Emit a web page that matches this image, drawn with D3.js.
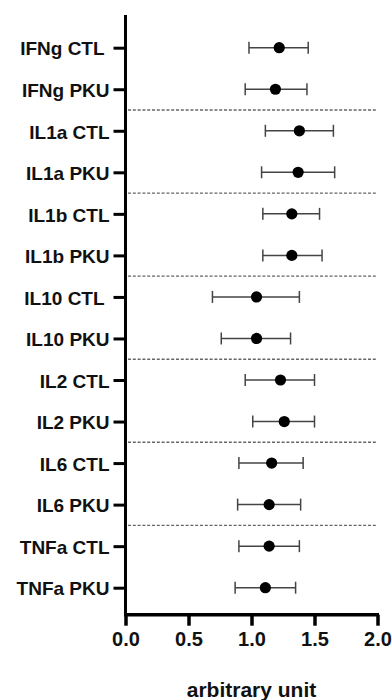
<!DOCTYPE html>
<html>
<head>
<meta charset="utf-8">
<script src="https://cdn.jsdelivr.net/npm/d3@7"></script>
<style>
  html, body { margin: 0; padding: 0; background: #fff; }
  svg { display: block; font-family: "Liberation Sans", Arial, sans-serif; }
</style>
</head>
<body>
<svg id="chart" width="392" height="700"></svg>
<script>
// ---- data ----
const categories = ["IFNg CTL ", "IFNg PKU", "IL1a CTL", "IL1a PKU", "IL1b CTL", "IL1b PKU",
  "IL10 CTL ", "IL10 PKU", "IL2 CTL", "IL2 PKU", "IL6 CTL", "IL6 PKU", "TNFa CTL", "TNFa PKU"];
const means = [1.22, 1.19, 1.38, 1.37, 1.32, 1.32, 1.04, 1.04, 1.23, 1.26, 1.16, 1.14, 1.14, 1.11];
const lower = [0.98, 0.95, 1.11, 1.08, 1.09, 1.09, 0.69, 0.76, 0.95, 1.01, 0.90, 0.89, 0.90, 0.87];
const upper = [1.45, 1.44, 1.65, 1.66, 1.54, 1.56, 1.38, 1.31, 1.50, 1.50, 1.41, 1.39, 1.38, 1.35];
const groupBreaks = [1, 3, 5, 7, 9, 11]; // separator after these row indices
const xTicks = [0, 0.5, 1.0, 1.5, 2.0];
const xTitle = "arbitrary unit";

// ---- layout ----
const svg = d3.select("#chart");
const x = d3.scaleLinear().domain([0, 2]).range([125.5, 377.5]);
const y = d3.scalePoint().domain(categories).range([47.7, 587.7]);
const axisTop = 15, axisBottom = 614.7;

// dashed group separators
svg.append("g").selectAll("line").data(groupBreaks).join("line")
  .attr("x1", 128).attr("x2", 377)
  .attr("y1", i => (y(categories[i]) + y(categories[i + 1])) / 2)
  .attr("y2", i => (y(categories[i]) + y(categories[i + 1])) / 2)
  .attr("stroke", "#666").attr("stroke-width", 1.4).attr("stroke-dasharray", "3,1.8");

// y axis
const yAxis = svg.append("g").attr("transform", `translate(${x(0)},0)`)
  .call(d3.axisLeft(y).tickSize(12).tickPadding(4).tickSizeOuter(0));
yAxis.select(".domain").remove();
yAxis.selectAll(".tick line").attr("stroke", "#000").attr("stroke-width", 3);
yAxis.selectAll(".tick text")
  .attr("fill", "#111").style("font-size", "19px").style("font-weight", "bold")
  .style("white-space", "pre").attr("dy", "0.38em");
svg.append("line").attr("x1", x(0)).attr("x2", x(0)).attr("y1", axisTop).attr("y2", axisBottom + 1.5)
  .attr("stroke", "#000").attr("stroke-width", 3);

// x axis
const xAxis = svg.append("g").attr("transform", `translate(0,${axisBottom})`)
  .call(d3.axisBottom(x).tickValues(xTicks).tickFormat(d3.format(".1f")).tickSize(11).tickPadding(6).tickSizeOuter(0));
xAxis.select(".domain").remove();
xAxis.selectAll(".tick line").attr("stroke", "#000").attr("stroke-width", 3.5);
xAxis.selectAll(".tick text")
  .attr("fill", "#111").style("font-size", "20px").style("font-weight", "bold");
svg.append("line").attr("x1", x(0) - 1.5).attr("x2", x(2) + 1.5).attr("y1", axisBottom).attr("y2", axisBottom)
  .attr("stroke", "#000").attr("stroke-width", 3.5);

// axis title
svg.append("text").attr("x", (x(0) + x(2)) / 2).attr("y", 697)
  .attr("text-anchor", "middle").attr("fill", "#111")
  .style("font-size", "21px").style("font-weight", "bold").text(xTitle);

// error bars
const eb = svg.append("g").attr("stroke", "#444").attr("stroke-width", 1.5);
categories.forEach((c, i) => {
  const yy = y(c);
  eb.append("line").attr("x1", x(lower[i])).attr("x2", x(upper[i])).attr("y1", yy).attr("y2", yy);
  eb.append("line").attr("x1", x(lower[i])).attr("x2", x(lower[i])).attr("y1", yy - 6).attr("y2", yy + 6);
  eb.append("line").attr("x1", x(upper[i])).attr("x2", x(upper[i])).attr("y1", yy - 6).attr("y2", yy + 6);
});

// points
svg.append("g").selectAll("circle").data(categories).join("circle")
  .attr("cx", (c, i) => x(means[i])).attr("cy", c => y(c)).attr("r", 5.6).attr("fill", "#000");
</script>
</body>
</html>
